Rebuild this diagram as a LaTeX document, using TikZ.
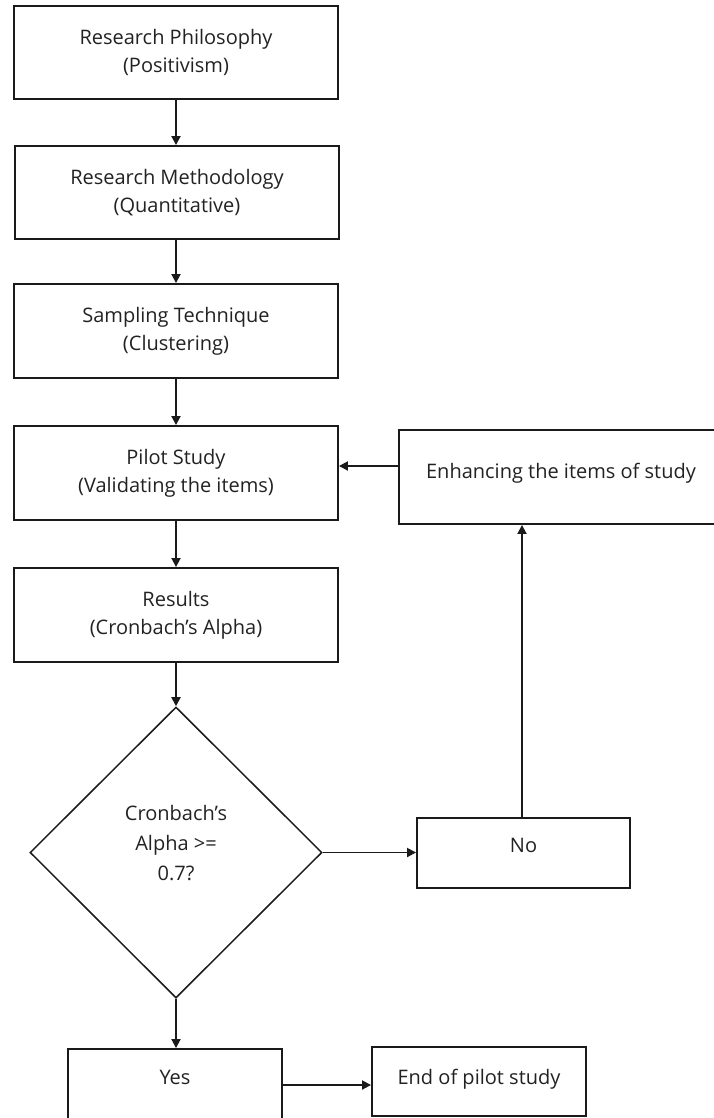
\documentclass[tikz,border=0pt]{standalone}
\usepackage{fontspec}
\setmainfont{Open Sans}
\usetikzlibrary{shapes.geometric,arrows.meta}
\definecolor{linec}{HTML}{1A1A1A}
\definecolor{textc}{HTML}{222222}
\begin{document}
\begin{tikzpicture}[x=1pt,y=-1pt,
  txt/.style={text=textc,align=center,inner sep=0pt,font=\fontsize{20}{28}\selectfont},
  box/.style={draw=linec,line width=1.9pt,rectangle,inner sep=0pt,align=center,
    text=textc,font=\fontsize{20}{28}\selectfont},
  decision/.style={draw=linec,line width=1.5pt,diamond,inner sep=0pt,
    minimum width=292pt,minimum height=291pt},
  arr/.style={draw=linec,line width=1.8pt,-{Triangle[width=9pt,length=9pt]}}]
\useasboundingbox (0,0) rectangle (714,1118);
\node[box,minimum width=324pt,minimum height=93pt] (b1) at (176,52.5) {Research Philosophy\\(Positivism)};
\node[box,minimum width=324pt,minimum height=93pt] (b2) at (177,192.5) {Research Methodology\\(Quantitative)};
\node[box,minimum width=324pt,minimum height=94pt] (b3) at (176,331) {Sampling Technique\\(Clustering)};
\node[box,minimum width=324pt,minimum height=94pt] (b4) at (176,473) {Pilot Study\\(Validating the items)};
\node[box,minimum width=324pt,minimum height=94pt] (b5) at (176,615) {Results\\(Cronbach’s Alpha)};
\node[decision,label={[txt,font=\fontsize{20}{30}\selectfont,yshift=9pt]center:Cronbach’s\\Alpha >=\\0.7?}] (d) at (176,852.5) {};
\node[box,minimum width=213pt,minimum height=70pt,label={[txt,yshift=8pt]center:No}] (no) at (523.5,853) {};
\node[box,minimum width=324pt,minimum height=94pt,label={[txt,yshift=4pt]center:Enhancing the items of study}] (enh) at (561,477) {};
\node[box,minimum width=214pt,minimum height=72pt,label={[txt,yshift=8pt]center:Yes}] (yes) at (175,1085) {};
\node[box,minimum width=214pt,minimum height=69pt,label={[txt,yshift=2.5pt]center:End of pilot study}] (end) at (479,1081.5) {};
\draw[arr] (b1) -- (b1.south |- b2.north);
\draw[arr] (b2.south -| b1.south) -- (b3);
\draw[arr] (b3) -- (b4);
\draw[arr] (b4) -- (b5);
\draw[arr] (b5) -- (d);
\draw[arr] (d.east) -- (d.east -| no.west);
\draw[arr] ([xshift=-1.5pt]no.north) -- ([xshift=-1.5pt]no.north |- enh.south);
\draw[arr] ([yshift=11pt]enh.west) -- ([yshift=11pt]enh.west -| b4.east);
\draw[arr] (d.south) -- (d.south |- yes.north);
\draw[arr] (yes.east) -- (yes.east -| end.west);
\end{tikzpicture}
\end{document}
